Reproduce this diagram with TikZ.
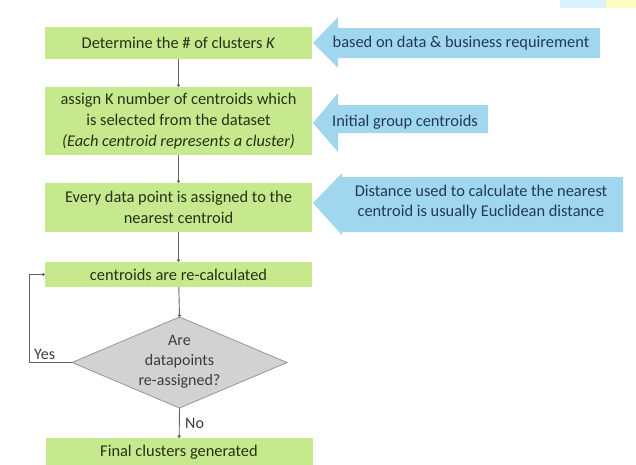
\documentclass[tikz,border=0pt]{standalone}
\usepackage{fontspec}
\setmainfont{Carlito}
\usetikzlibrary{arrows.meta}
\definecolor{boxgreen}{RGB}{198,233,142}
\definecolor{arrblue}{RGB}{160,214,238}
\definecolor{gtext}{RGB}{36,50,24}
\definecolor{btext}{RGB}{32,58,88}
\definecolor{dfill}{RGB}{210,210,210}
\definecolor{dline}{RGB}{150,150,150}
\definecolor{cline}{RGB}{100,100,100}
\definecolor{qtext}{RGB}{60,60,60}
\begin{document}
\begin{tikzpicture}[x=1pt,y=-1pt,
  box/.style={fill=boxgreen,minimum width=267pt,inner sep=0pt,align=center,text=gtext,font=\fontsize{16.4}{21}\selectfont},
  blab/.style={inner sep=0pt,align=center,text=btext,font=\fontsize{16.4}{20}\selectfont},
  barrow/.style={fill=arrblue,draw=none},
  conn/.style={draw=cline,line width=0.9pt,-{Circle[length=3pt]}},
  lab/.style={inner sep=0pt,text=qtext,font=\fontsize{16}{20}\selectfont}
]
\useasboundingbox (0,0) rectangle (636,464);
\fill[white] (0,0) rectangle (636,464);
% faint background blobs at the top right
\fill[cyan!15] (560,0) rectangle (606,8);
\fill[yellow!25] (606,0) rectangle (636,8);

% blue arrows
\draw[barrow] (313,43) -- (338,17) -- (338,28) -- (600,28) -- (600,58) -- (338,58) -- (338,68) -- cycle;
\draw[barrow] (313,123) -- (338,93) -- (338,105) -- (488,105) -- (488,133) -- (338,133) -- (338,152) -- cycle;
\draw[barrow] (313,203) -- (342,173) -- (342,177) -- (623,177) -- (623,232) -- (342,232) -- (342,235) -- cycle;
\node[blab] (t1) at (461,43) {based on data \& business requirement};
\node[blab] (t2) at (405,122) {Initial group centroids};
\node[blab] (t3) at (481,202) {Distance used to calculate the nearest\\centroid is usually Euclidean distance};

% green boxes
\node[box,minimum height=32pt] (b1) at (178.5,43) {Determine the \# of clusters \textit{K}};
\node[box,minimum height=68pt] (b2) at (178.5,121) {assign K number of centroids which\\is selected from the dataset\\\textit{(Each centroid represents a cluster)}};
\node[box,minimum height=49pt] (b3) at (178.5,207.5) {Every data point is assigned to the\\nearest centroid};
\node[box,minimum height=25pt] (b4) at (178.5,274.5) {centroids are re-calculated};
\node[box,minimum height=28pt] (b5) at (179,452) {Final clusters generated};

% decision diamond
\coordinate (dtop) at (179.5,317);
\coordinate (dbot) at (179.5,408);
\coordinate (dleft) at (72,362.5);
\coordinate (dright) at (287,362.5);
\draw[fill=dfill,draw=dline,line width=0.8pt] (dtop) -- (dright) -- (dbot) -- (dleft) -- cycle;
\node[lab,align=center] (dq) at (179.5,362) {Are\\datapoints\\re-assigned?};

% connectors
\draw[conn] (b1) -- (b2);
\draw[conn] (b2) -- (b3);
\draw[conn] (b3) -- (b4);
\draw[conn] (b4) -- (dtop);
\draw[conn] (dbot) -- (b5);
\coordinate (fb) at (29,362.5);
\draw[conn] (dleft) -- (fb) |- (b4.west);
\node[lab,anchor=south west] (yes) at (34,360) {Yes};
\node[lab,anchor=west] (no) at (185,423) {No};
\end{tikzpicture}
\end{document}
